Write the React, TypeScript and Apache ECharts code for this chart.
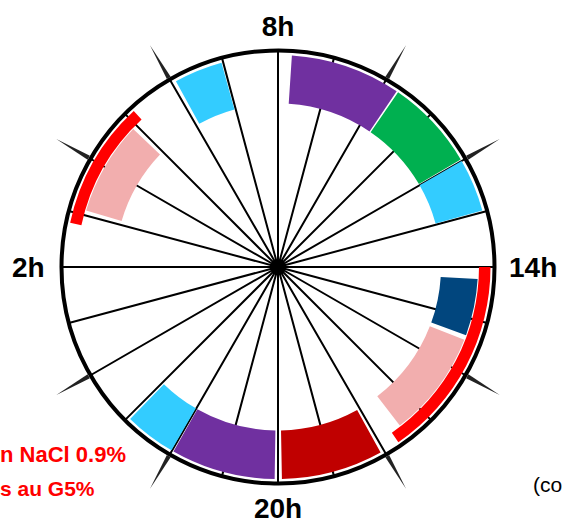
import React, { useEffect, useRef } from 'react';
import * as echarts from 'echarts';

// Hour labels around the dial
const hourLabels = ['2h', '8h', '14h', '20h'];
const labelHours = [2, 8, 14, 20];

// Full-width blocks (start hour, end hour)
const blockStart = [6.05, 8.22, 10.27, 11.97, 18.04, 20.03, 21.98];
const blockEnd = [7.0, 10.3, 12.0, 13.0, 19.96, 22.0, 22.98];
const blockColor = ['#33CCFF', '#7030A0', '#00B050', '#33CCFF', '#C00000', '#7030A0', '#33CCFF'];

// Narrower blocks (inside the red arcs)
const shortStart = [3.06, 14.2, 15.39];
const shortEnd = [4.94, 15.36, 17.53];
const shortColor = ['#F2AEAE', '#01467E', '#F2AEAE'];

// Red arcs
const redStart = [2.8, 14.0];
const redEnd = [5.15, 17.7];

// Pointer spikes outside the dial
const spikeHours = [0, 4, 6, 10, 12, 16, 18, 22];

// Annotation texts
const noteLines = ['n NaCl 0.9%', 's au G5%'];
const cornerNote = '(co';

export default function App() {
  const ref = useRef<HTMLDivElement>(null);

  useEffect(() => {
    const chart = echarts.init(ref.current as HTMLDivElement, null, { renderer: 'svg' });
    const font = "'Liberation Sans', Arial, sans-serif";
    const labelKey: Record<number, string> = { 2: 'l', 8: 't', 14: 'r', 20: 'b' };

    const ringItem = (rIn: number, rOut: number, padPx: number) => (params: any, api: any) => {
      const h0 = api.value(0);
      const h1 = api.value(1);
      const c = api.coord([0, h0]);
      const dist = (p: number[]) => Math.hypot(p[0] - c[0], p[1] - c[1]);
      const rInPx = dist(api.coord([rIn, h0]));
      const rOutPx = dist(api.coord([rOut, h0]));
      const rMid = (rInPx + rOutPx) / 2;
      const dh = (padPx / rMid) * (12 / Math.PI);
      const pa = api.coord([rOut, h0 + dh]);
      const pb = api.coord([rOut, h1 - dh]);
      const a0 = Math.atan2(pa[1] - c[1], pa[0] - c[0]);
      let a1 = Math.atan2(pb[1] - c[1], pb[0] - c[0]);
      while (a1 <= a0) a1 += 2 * Math.PI;
      return {
        type: 'sector',
        shape: { cx: c[0], cy: c[1], r0: rInPx, r: rOutPx, startAngle: a0, endAngle: a1, clockwise: true },
        style: { fill: api.visual('color') },
      };
    };

    const spikeItem = (rIn: number, rTip: number, halfW: number) => (params: any, api: any) => {
      const h = api.value(1);
      const dh = (halfW / rIn) * (12 / Math.PI);
      const pts = [api.coord([rIn, h - dh]), api.coord([rTip, h]), api.coord([rIn, h + dh])];
      return { type: 'polygon', shape: { points: pts }, style: { fill: '#222' } };
    };

    chart.setOption({
      animation: false,
      backgroundColor: '#ffffff',
      polar: { center: [278, 267], radius: 216.5 },
      angleAxis: {
        type: 'value',
        min: 0,
        max: 24,
        interval: 1,
        startAngle: 210,
        clockwise: true,
        axisLine: { show: true, lineStyle: { color: '#000', width: 4 } },
        axisTick: { show: false },
        splitLine: { show: true, lineStyle: { color: '#000', width: 2 } },
        axisLabel: {
          margin: 10,
          formatter: (v: number) => {
            const i = labelHours.indexOf(v);
            return i >= 0 ? `{${labelKey[v]}|${hourLabels[i]}}` : '';
          },
          rich: {
            t: { fontSize: 28, fontWeight: 'bold', fontFamily: font, color: '#000' },
            r: { fontSize: 28, fontWeight: 'bold', fontFamily: font, color: '#000', padding: [0, 0, 0, 4.5] },
            b: { fontSize: 28, lineHeight: 22, fontWeight: 'bold', fontFamily: font, color: '#000', padding: [7.5, 0, 0, 0] },
            l: { fontSize: 28, fontWeight: 'bold', fontFamily: font, color: '#000', padding: [0, 6.8, 0, 0] },
          },
        },
      },
      radiusAxis: {
        type: 'value',
        min: 0,
        max: 216.5,
        axisLine: { show: false },
        axisTick: { show: false },
        axisLabel: { show: false },
        splitLine: { show: false },
      },
      series: [
        {
          type: 'custom',
          coordinateSystem: 'polar',
          clip: false,
          renderItem: ringItem(163.5, 212, 1.5),
          data: blockStart.map((s, i) => ({ value: [s, blockEnd[i]], itemStyle: { color: blockColor[i] } })),
        },
        {
          type: 'custom',
          coordinateSystem: 'polar',
          clip: false,
          renderItem: ringItem(163, 200, 1.5),
          data: shortStart.map((s, i) => ({ value: [s, shortEnd[i]], itemStyle: { color: shortColor[i] } })),
        },
        {
          type: 'custom',
          coordinateSystem: 'polar',
          clip: false,
          renderItem: ringItem(201, 212.5, 0),
          data: redStart.map((s, i) => ({ value: [s, redEnd[i]], itemStyle: { color: '#FF0000' } })),
        },
        {
          type: 'custom',
          coordinateSystem: 'polar',
          clip: false,
          renderItem: spikeItem(218.5, 256, 2.2),
          data: spikeHours.map((h) => [0, h]),
        },
      ],
      graphic: [
        {
          type: 'text',
          x: 126,
          y: 454,
          style: { text: noteLines[0], fill: '#FF0000', fontSize: 22, fontWeight: 'bold', fontFamily: font, align: 'right', verticalAlign: 'middle' },
        },
        {
          type: 'text',
          x: 0,
          y: 488,
          style: { text: noteLines[1], fill: '#FF0000', fontSize: 21, fontWeight: 'bold', fontFamily: font, align: 'left', verticalAlign: 'middle' },
        },
        {
          type: 'text',
          x: 533,
          y: 484,
          style: { text: cornerNote, fill: '#000', fontSize: 21, fontFamily: font, align: 'left', verticalAlign: 'middle' },
        },
      ],
    });

    return () => chart.dispose();
  }, []);

  return <div ref={ref} style={{ position: 'absolute', left: 0, top: 0, width: 564, height: 525 }} />;
}
